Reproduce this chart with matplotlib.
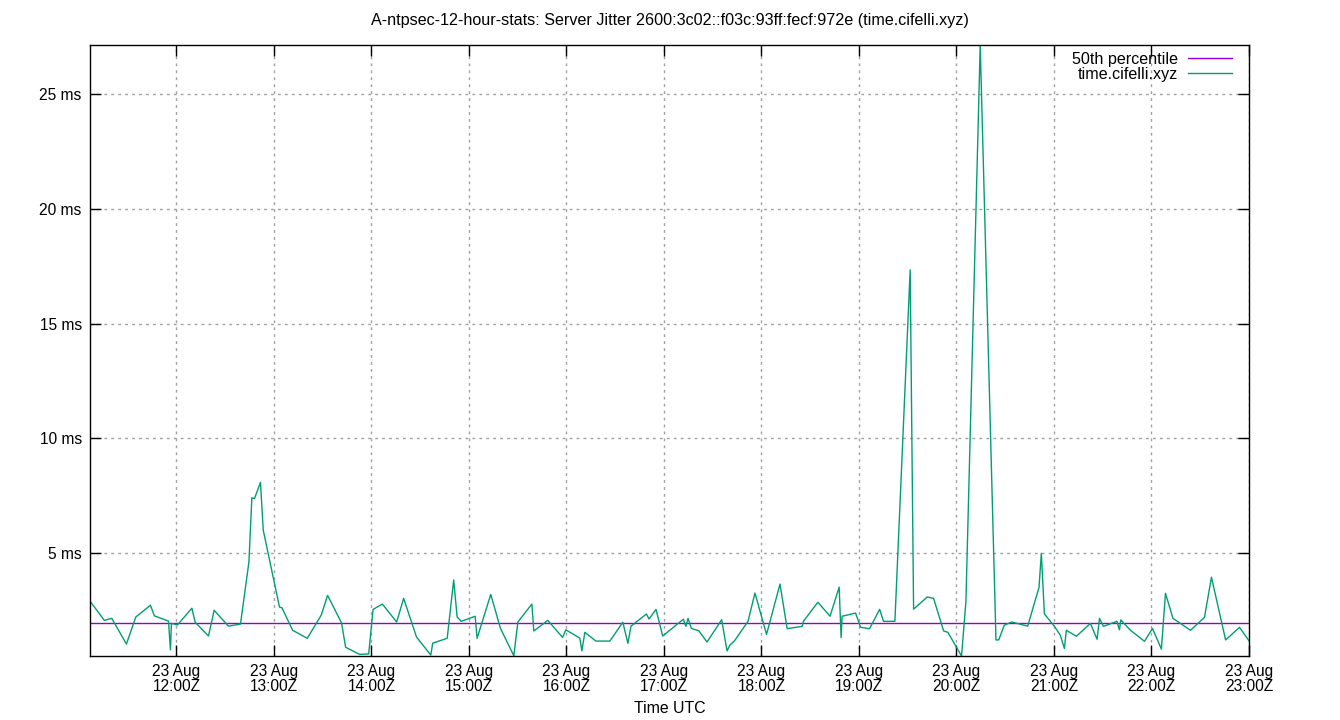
import matplotlib
matplotlib.use("Agg")
import matplotlib.pyplot as plt
import matplotlib.dates as mdates
import pandas as pd
import numpy as np

plt.rcParams['font.family'] = ['Liberation Sans', 'DejaVu Sans']

title = "A-ntpsec-12-hour-stats: Server Jitter 2600:3c02::f03c:93ff:fecf:972e (time.cifelli.xyz)"
series_name = "time.cifelli.xyz"
median_name = "50th percentile"
x_label = "Time UTC"
start_time = "2025-08-23 12:00"

# minutes relative to 12:00Z on 23 Aug
minutes = [-53.2, -44.4, -39.8, -30.8, -25.0, -16.0, -13.6, -4.9, -3.7, -3.1,
           0.6, 9.5, 11.5, 19.7, 23.2, 32.0, 39.4, 44.6, 46.4, 48.0,
           51.7, 53.4, 63.4, 64.9, 71.5, 80.5, 89.1, 93.0, 101.6, 104.1,
           112.7, 118.3, 121.0, 126.7, 135.5, 139.8, 147.7, 156.5, 157.7, 166.6,
           170.6, 172.7, 175.2, 183.8, 185.0, 193.4, 199.4, 207.6, 210.1, 218.7,
           219.9, 228.5, 237.6, 239.6, 248.2, 249.5, 251.3, 258.1, 266.7, 274.7,
           277.8, 279.7, 289.2, 290.8, 295.1, 299.2, 311.9, 313.5, 314.8, 316.9,
           321.4, 326.5, 335.5, 338.8, 340.5, 343.4, 351.7, 356.0, 363.1, 371.4,
           375.8, 385.0, 385.9, 394.7, 402.2, 407.8, 409.0, 409.6, 417.9, 421.0,
           426.5, 432.7, 435.1, 442.1, 451.5, 453.6, 462.0, 465.9, 472.1, 474.7,
           483.1, 485.8, 494.6, 504.3, 506.0, 509.4, 514.0, 523.8, 530.8, 532.2,
           534.1, 540.2, 543.9, 546.4, 547.6, 553.8, 562.4, 566.5, 568.0, 570.4,
           578.7, 580.3, 581.1, 586.9, 595.7, 600.6, 606.1, 608.6, 613.2, 624.0,
           632.6, 636.9, 645.6, 654.2, 660.0]

jitter_ms = [2.92, 2.08, 2.17, 1.05, 2.23, 2.74, 2.28, 2.05, 0.80, 1.95,
             1.88, 2.61, 2.00, 1.40, 2.52, 1.83, 1.92, 4.63, 7.42, 7.38,
             8.09, 6.01, 2.66, 2.63, 1.65, 1.30, 2.31, 3.17, 1.97, 0.91,
             0.60, 0.62, 2.56, 2.79, 2.01, 3.04, 1.36, 0.57, 1.09, 1.30,
             3.84, 2.24, 2.04, 2.26, 1.30, 3.21, 1.73, 0.54, 2.01, 2.79,
             1.62, 2.08, 1.34, 1.67, 1.31, 0.75, 1.56, 1.18, 1.18, 2.00,
             1.08, 1.83, 2.36, 2.14, 2.56, 1.40, 2.13, 1.82, 2.17, 1.73,
             1.63, 1.14, 2.11, 0.75, 1.00, 1.19, 2.04, 3.27, 1.47, 3.66,
             1.72, 1.82, 2.05, 2.87, 2.26, 3.53, 1.33, 2.26, 2.40, 1.78,
             1.72, 2.56, 2.04, 2.04, 17.34, 2.57, 3.10, 3.04, 1.62, 1.56,
             0.53, 2.89, 27.13, 1.23, 1.23, 1.87, 2.01, 1.83, 3.52, 5.00,
             2.36, 1.83, 1.43, 0.86, 1.65, 1.39, 1.95, 1.26, 2.17, 1.82,
             2.04, 1.67, 2.10, 1.66, 1.17, 1.73, 0.83, 3.26, 2.17, 1.65,
             2.21, 3.96, 1.23, 1.78, 1.19]

median_ms = 1.96
y_ticks = [5, 10, 15, 20, 25]

base = pd.Timestamp(start_time)
times = [base + pd.Timedelta(minutes=m) for m in minutes]
tnum = mdates.date2num(times)

fig = plt.figure(figsize=(13.4, 7.2), dpi=100)
ax = fig.add_axes([90/1340, 64/720, (1249-90)/1340, (656-45)/720])

green = '#009e73'
purple = '#9400d3'

ax.plot([tnum[0], tnum[-1]], [median_ms, median_ms], color=purple, lw=1, label=median_name)
ax.plot(tnum, jitter_ms, color=green, lw=1, label=series_name)

ax.set_xlim(tnum[0], tnum[-1])
ax.set_ylim(min(jitter_ms), max(jitter_ms))

ax.xaxis.set_major_locator(mdates.HourLocator())
ax.xaxis.set_major_formatter(mdates.DateFormatter('%d %b\n%H:%MZ'))
ax.set_yticks(y_ticks)
ax.set_yticklabels([f"{v} ms" for v in y_ticks])

ax.grid(True, color='#a0a0a0', lw=1, linestyle=(0, (2, 3)))
ax.tick_params(direction='in', length=8, width=1, top=True, right=True,
               labelsize=11.2, colors='black', pad=6)
for s in ax.spines.values():
    s.set_linewidth(1)
    s.set_color('black')

for lbl in ax.get_xticklabels():
    lbl.set_linespacing(0.95)

ax.set_xlabel(x_label, fontsize=11.4, labelpad=5)
fig.text(0.5, 1 - 20/720, title, ha='center', va='center', fontsize=11.6)

leg = ax.legend(loc='upper right', bbox_to_anchor=((1232 - 90) / 1159, (656 - 52) / 611),
                frameon=False, markerfirst=False, fontsize=11.6, handlelength=2.75,
                handletextpad=0.62, labelspacing=0.0, borderaxespad=0.0, borderpad=0.0)

fig.savefig('out.png', dpi=100)
